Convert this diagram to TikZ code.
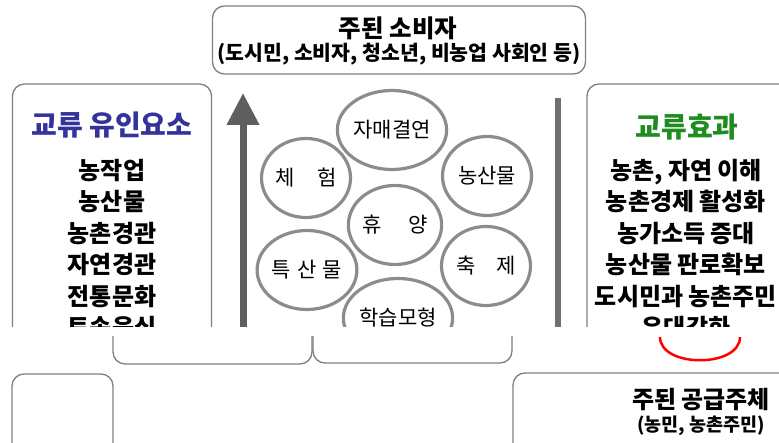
\documentclass[tikz,border=0pt]{standalone}
\usepackage{fontspec}
\setmainfont{Noto Sans CJK KR}
\usetikzlibrary{arrows.meta,positioning,shapes.geometric}
\colorlet{frame}{black!50}
\definecolor{ringgray}{HTML}{8C8C8C}
\definecolor{shaftgray}{HTML}{5F5F5F}
\definecolor{navy}{HTML}{33339A}
\definecolor{leaf}{HTML}{1E8C1E}
\newcommand{\krsize}[2]{\fontsize{#1}{#2}\selectfont}
\tikzset{panel/.style={draw=frame, line width=1.3pt, rounded corners=12pt, fill=white, inner sep=0pt},
         ring/.style={ellipse, draw=ringgray, line width=3.2pt, minimum width=89pt, minimum height=79pt,
            inner sep=0pt, font=\krsize{21}{23}},
         itemlist/.style={align=center, inner sep=0pt, font=\bfseries\krsize{24}{31.5}},
         headline/.style={inner sep=0pt, font=\bfseries\krsize{#1}{#1}}}

\begin{document}
\begin{tikzpicture}[x=1pt, y=-1pt]
\useasboundingbox (0,0) rectangle (779,443);
% upper part, cut off by the band
\begin{scope}
\clip (0,0) rectangle (779,327);
 \node[panel, minimum width=373pt, minimum height=68pt] (consumer) at (399,40) {};
 \node[headline=24.5] (consumertitle) at (398,28) {주된 소비자};
 \node[headline=20.5] (consumersub) at (399,54) {(도시민, 소비자, 청소년, 비농업 사회인 등)};

 \node[panel, minimum width=199pt, minimum height=330pt] (attract) at (112,249) {};
 \node[headline=28, text=navy] (attracttitle) at (112,125) {교류 유인요소};
 \node[itemlist] (attractlist) at (112,249) {농작업\\농산물\\농촌경관\\자연경관\\전통문화\\토속음식};

 \node[panel, minimum width=220pt, minimum height=330pt] (effect) at (697,249) {};
 \node[headline=28, text=leaf] (effecttitle) at (687,127) {교류효과};
 \node[itemlist] (effectlist) at (686,249) {농촌, 자연 이해\\농촌경제 활성화\\농가소득 증대\\농산물 판로확보\\도시민과 농촌주민\\유대강화};

 \coordinate (arrowfoot) at (243,340);
 \coordinate (arrowtip) at (243,93);
 \draw[shaftgray, line width=7pt, -{Triangle[width=31pt,length=32pt]}] (arrowfoot) -- (arrowtip);
 \coordinate (bartop) at (558,98);
 \coordinate (barfoot) at (558,340);
 \draw[shaftgray!90, line width=6pt] (bartop) -- (barfoot);

 \node[ring] (sister) at (392,130) {자매결연};
 \node[ring] (experience) at (306,178) {체\hspace{1.1em}험};
 \node[ring] (produce) at (487,176) {농산물};
 \node[ring] (rest) at (395,225) {휴\hspace{1.3em}양};
 \node[ring] (specialty) at (307,270) {특\hspace{.3em}산\hspace{.3em}물};
 \node[ring] (festival) at (486,266) {축\hspace{1em}제};
 \node[ring] (learning) at (398,318) {학습모형};
\end{scope}
% lower part
\begin{scope}
\clip (0,337) rectangle (779,443);
 \node[panel, minimum width=199pt, minimum height=100pt] (rowa) at (212.5,314) {};
 \node[panel, minimum width=199pt, minimum height=100pt] (rowb) at (412.5,313) {};
 \node[panel, minimum width=101pt, minimum height=120pt] (leftfoot) at (62.5,434) {};
 \node[panel, minimum width=280pt, minimum height=120pt] (supply) at (653,433) {};
 \node[headline=24] (supplytitle) at (701,400) {주된 공급주체};
 \node[headline=18.5] (supplysub) at (701,426) {(농민, 농촌주민)};
 \coordinate (arcleft) at (660,337);
 \coordinate (arcright) at (740,337);
 \draw[red, line width=2.5pt] (arcleft) .. controls (660,368) and (740,368) .. (arcright);
\end{scope}
\end{tikzpicture}
\end{document}
